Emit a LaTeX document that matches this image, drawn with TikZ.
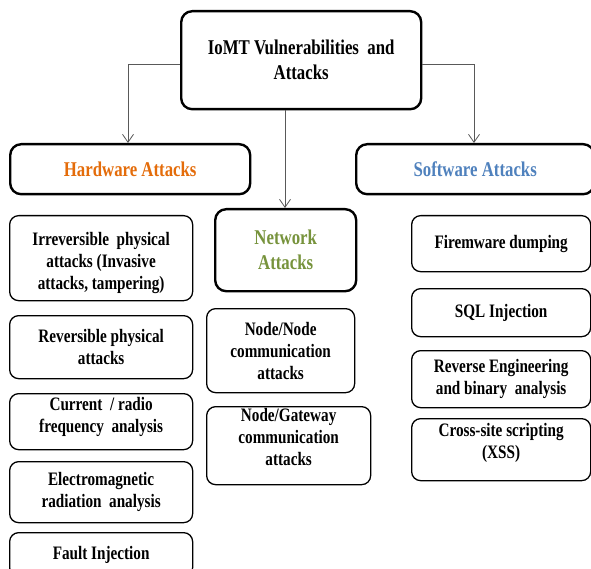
\documentclass[tikz,border=0pt]{standalone}
\usepackage{fontspec}
\setmainfont{Liberation Serif}[FakeStretch=0.8]
\usetikzlibrary{arrows.meta}
\definecolor{hworange}{HTML}{E46C0A}
\definecolor{swblue}{HTML}{4F81BD}
\definecolor{nwgreen}{HTML}{77933C}
\definecolor{conn}{HTML}{595959}
\begin{document}
\begin{tikzpicture}[x=1pt,y=-1pt,
  every node/.style={font=\fontsize{19}{22}\selectfont\bfseries, align=center, inner sep=0pt},
  headfont/.style={font=\fontsize{21}{25}\selectfont\bfseries},
  bigbox/.style={draw=black, line width=2.4pt, rounded corners=11pt, anchor=north west, headfont},
  itembox/.style={draw=black, line width=1.3pt, rounded corners=9pt, anchor=north west},
  conn/.style={draw=conn, line width=0.8pt, -{Straight Barb[length=8pt,width=11pt]}}]
\clip (0,0) rectangle (591,569);
\fill[white] (0,0) rectangle (591,569);
% main boxes
\node[bigbox, minimum width=240pt, minimum height=98pt] (root) at (180,10) {IoMT Vulnerabilities\ \ and\\Attacks};
\node[bigbox, minimum width=240pt, minimum height=50pt, text=hworange] (hw) at (9,143) {Hardware Attacks};
\node[bigbox, minimum width=238pt, minimum height=50pt, text=swblue] (sw) at (355,143) {Software Attacks};
\node[bigbox, minimum width=141pt, minimum height=82pt, text=nwgreen] (nw) at (214,208) {Network\\Attacks};
% connectors
\draw[conn] (root.west |- 0,64) -| (hw.north -| 128,0);
\draw[conn] (root.east |- 0,64) -| (sw.north -| 474,0);
\draw[conn] (root.south -| 285,0) -- (nw.north -| 285,0);
% hardware items
\node[itembox, minimum width=183pt, minimum height=85pt] (h1) at (9,215) {\rule{0pt}{23pt}Irreversible\ \ physical\\attacks (Invasive\\attacks, tampering)};
\node[itembox, minimum width=183pt, minimum height=63pt] (h2) at (9,315) {Reversible physical\\attacks};
\node[itembox, minimum width=183pt, minimum height=56pt, text depth=14pt] (h3) at (9,393) {Current\ \ /\ radio\\frequency\ \ analysis};
\node[itembox, minimum width=183pt, minimum height=61pt] (h4) at (9,461) {Electromagnetic\\radiation\ \ analysis};
\node[itembox, minimum width=183pt, minimum height=44pt] (h5) at (9,532) {Fault Injection};
% network items
\node[itembox, minimum width=148pt, minimum height=84pt] (n1) at (206,308) {Node/Node\\communication\\attacks};
\node[itembox, minimum width=164pt, minimum height=78pt, text depth=18pt] (n2) at (206,406) {Node/Gateway\\communication\\attacks};
% software items
\node[itembox, minimum width=179pt, minimum height=56pt] (s1) at (411,215) {Firemware dumping};
\node[itembox, minimum width=179pt, minimum height=48pt] (s2) at (411,288) {SQL Injection};
\node[itembox, minimum width=179pt, minimum height=57pt] (s3) at (411,350) {Reverse Engineering\\and binary\ \ analysis};
\node[itembox, minimum width=179pt, minimum height=62pt, text depth=18pt] (s4) at (411,418) {Cross-site scripting\\(XSS)};
\end{tikzpicture}
\end{document}
